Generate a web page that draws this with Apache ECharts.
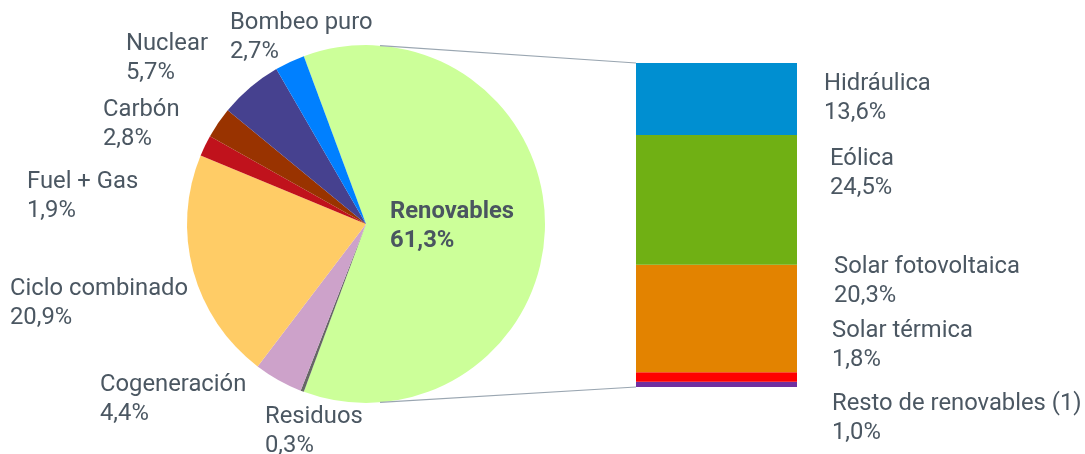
<!DOCTYPE html>
<html>
<head>
<meta charset="utf-8">
<script src="https://cdn.jsdelivr.net/npm/echarts@6/dist/echarts.min.js"></script>
<style>
  html, body { margin: 0; padding: 0; background: #ffffff; }
  #chart { width: 1085px; height: 454px; }
</style>
</head>
<body>
<div id="chart"></div>
<script>
// Generation mix (%), clockwise from the renewables slice
const pieNames  = ['Renovables', 'Residuos', 'Cogeneración', 'Ciclo combinado', 'Fuel + Gas', 'Carbón', 'Nuclear', 'Bombeo puro'];
const pieValues = [61.3, 0.3, 4.4, 20.9, 1.9, 2.8, 5.7, 2.7];
const pieColors = ['#ccff99', '#666666', '#cda2ca', '#ffcc66', '#c0121c', '#993300', '#46418f', '#0080ff'];

// Breakdown of renewables, stacked bottom to top
const renNames  = ['Resto de renovables (1)', 'Solar térmica', 'Solar fotovoltaica', 'Eólica', 'Hidráulica'];
const renValues = [1.0, 1.8, 20.3, 24.5, 13.6];
const renColors = ['#7030a0', '#ff0000', '#e38300', '#70b014', '#008fd1'];

// Label anchors: [left x, centre y of first line]
const pieLabelPos = [[390, 212], [265, 417], [100, 385], [10, 289.5], [27, 182], [103, 110], [126, 44], [230, 23]];
const barLabelPos = [[832, 404], [832, 331], [834, 267], [830, 159], [824, 84]];

const TEXT = '#4b5762';
const FONT = 'Roboto';
const FS = 23.8;
const LH = 29;
const PIE_C = [366, 224];
const PIE_R = 179;

const fmt = v => v.toFixed(1).replace('.', ',') + '%';

const chart = echarts.init(document.getElementById('chart'), null, { renderer: 'canvas' });

const pieTotal = pieValues.reduce((a, b) => a + b, 0);
const startAngle = (pieValues[0] / pieTotal) * 360 / 2;

const layoutFrom = list => params => {
  const p = list[params.dataIndex];
  return { x: p[0], y: p[1] - LH / 2, align: 'left', verticalAlign: 'top' };
};

const barSeries = renNames.map((name, i) => ({
  type: 'bar',
  name: name,
  stack: 'ren',
  barWidth: '100%',
  data: [renValues[i]],
  itemStyle: { color: renColors[i] },
  label: {
    show: true,
    formatter: p => p.seriesName + '\n' + fmt(p.value),
    color: TEXT, fontFamily: FONT, fontSize: FS, lineHeight: LH,
    overflow: 'none'
  },
  labelLayout: () => {
    const p = barLabelPos[i];
    return { x: p[0], y: p[1] - LH / 2, align: 'left', verticalAlign: 'top' };
  },
  silent: true
}));

const renTotal = renValues.reduce((a, b) => a + b, 0);

chart.setOption({
  animation: false,
  backgroundColor: '#ffffff',
  grid: { left: 636, top: 63, width: 161, height: 324 },
  xAxis: { type: 'category', data: ['Renovables'], show: false },
  yAxis: { type: 'value', min: 0, max: renTotal, show: false },
  series: [
    {
      type: 'pie',
      center: PIE_C,
      radius: PIE_R,
      startAngle: startAngle,
      clockwise: true,
      silent: true,
      data: pieNames.map((n, i) => ({
        name: n,
        value: pieValues[i],
        itemStyle: { color: pieColors[i] },
        label: i === 0 ? { fontWeight: 'bold', color: '#4a5560' } : {}
      })),
      label: {
        show: true,
        position: 'outside',
        alignTo: 'none',
        overflow: 'none',
        formatter: p => p.name + '\n' + fmt(p.value),
        color: TEXT, fontFamily: FONT, fontSize: FS, lineHeight: LH
      },
      labelLine: { show: false },
      labelLayout: layoutFrom(pieLabelPos)
    },
    ...barSeries
  ]
});

// Connector lines from the pie to the top and bottom of the stacked bar
const barTop = chart.convertToPixel({ gridIndex: 0 }, ['Renovables', renTotal]);
const barBottom = chart.convertToPixel({ gridIndex: 0 }, ['Renovables', 0]);
const barLeft = 636;
const a = 85.5 * Math.PI / 180;
const pTop = [PIE_C[0] + PIE_R * Math.cos(a), PIE_C[1] - PIE_R * Math.sin(a)];
const pBot = [PIE_C[0] + PIE_R * Math.cos(a), PIE_C[1] + PIE_R * Math.sin(a)];

chart.setOption({
  graphic: [
    { type: 'line', shape: { x1: pTop[0], y1: pTop[1], x2: barLeft, y2: barTop[1] }, style: { stroke: '#9aa6b1', lineWidth: 1.2 }, z: 10 },
    { type: 'line', shape: { x1: pBot[0], y1: pBot[1], x2: barLeft, y2: barBottom[1] }, style: { stroke: '#9aa6b1', lineWidth: 1.2 }, z: 10 }
  ]
});
</script>
</body>
</html>
